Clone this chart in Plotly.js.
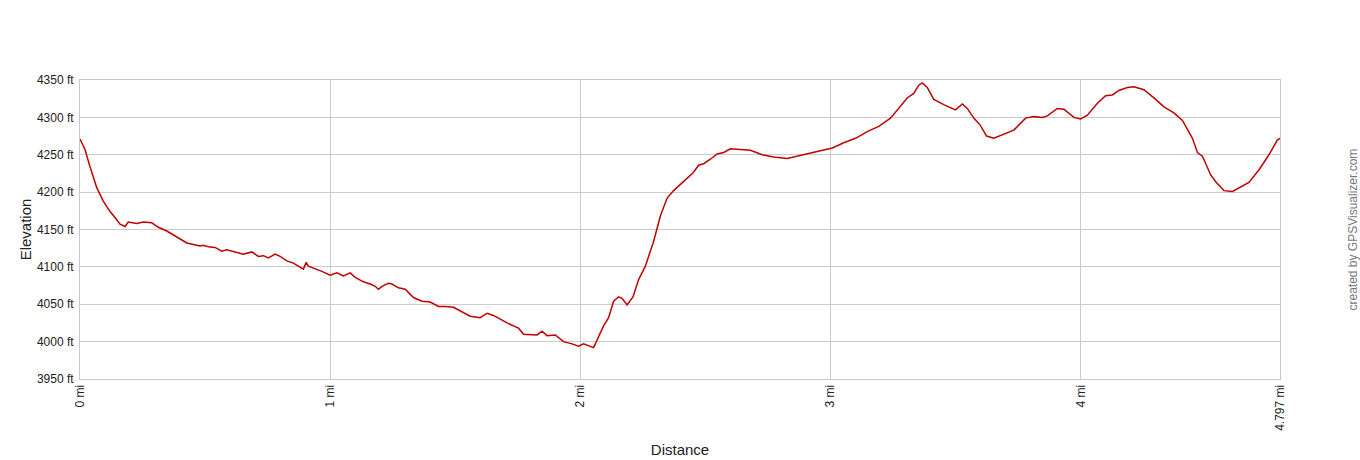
<!DOCTYPE html>
<html>
<head>
<meta charset="utf-8">
<script src="https://cdn.plot.ly/plotly-3.0.1.min.js"></script>
<style>
  html, body { margin: 0; padding: 0; background: #fff; }
  #chart { width: 1360px; height: 460px; }
</style>
</head>
<body>
<div id="chart"></div>
<script>
// distance along the track (mi)
const distMi = [
    0, 0.02, 0.04, 0.067, 0.093, 0.12, 0.14, 0.16, 0.18, 0.193, 0.227, 0.253, 0.287, 0.313,
    0.347, 0.387, 0.427, 0.453, 0.48, 0.493, 0.513, 0.54, 0.567, 0.587, 0.613, 0.653, 0.687,
    0.713, 0.733, 0.753, 0.78, 0.8, 0.827, 0.853, 0.893, 0.904, 0.913, 0.94, 0.967, 1.0,
    1.027, 1.053, 1.08, 1.1, 1.133, 1.16, 1.18, 1.193, 1.207, 1.233, 1.247, 1.273, 1.3,
    1.333, 1.367, 1.4, 1.433, 1.46, 1.493, 1.56, 1.6, 1.627, 1.653, 1.707, 1.753, 1.773,
    1.827, 1.847, 1.867, 1.9, 1.933, 1.967, 1.993, 2.013, 2.053, 2.093, 2.113, 2.133, 2.153,
    2.167, 2.187, 2.211, 2.233, 2.26, 2.293, 2.32, 2.347, 2.373, 2.4, 2.433, 2.451, 2.473,
    2.493, 2.52, 2.547, 2.573, 2.6, 2.64, 2.68, 2.727, 2.773, 2.827, 2.88, 2.947, 3.007,
    3.053, 3.1, 3.147, 3.193, 3.24, 3.267, 3.307, 3.333, 3.353, 3.367, 3.387, 3.413, 3.453,
    3.5, 3.527, 3.547, 3.573, 3.6, 3.624, 3.653, 3.693, 3.733, 3.78, 3.813, 3.847, 3.867,
    3.907, 3.933, 3.973, 4.0, 4.027, 4.067, 4.1, 4.127, 4.153, 4.187, 4.213, 4.253, 4.293,
    4.333, 4.373, 4.407, 4.447, 4.467, 4.487, 4.52, 4.54, 4.573, 4.607, 4.64, 4.673, 4.713,
    4.753, 4.787, 4.797,
];
// elevation (ft)
const elevFt = [
    4271, 4257, 4234, 4206, 4188, 4174, 4166, 4157, 4154, 4160, 4158, 4160, 4159, 4153,
    4148, 4140, 4132, 4130, 4128, 4129, 4127, 4126, 4121, 4123, 4121, 4117, 4120,
    4114, 4115, 4112, 4117, 4114, 4108, 4105, 4097, 4106, 4101, 4098, 4094, 4089,
    4092, 4088, 4092, 4086, 4080, 4077, 4074, 4070, 4074, 4078, 4077, 4072, 4070,
    4059, 4054, 4053, 4047, 4047, 4046, 4034, 4032, 4038, 4035, 4025, 4018, 4010,
    4009, 4014, 4008, 4009, 4000, 3997, 3994, 3997, 3992, 4021, 4032, 4054, 4060,
    4058, 4049, 4060, 4083, 4101, 4134, 4168, 4192, 4202, 4210, 4220, 4226, 4236,
    4238, 4244, 4251, 4253, 4258, 4257, 4256, 4250, 4247, 4245, 4249, 4255, 4259,
    4266, 4272, 4281, 4288, 4299, 4310, 4326, 4332, 4343, 4346, 4340, 4324, 4317,
    4310, 4318, 4312, 4299, 4289, 4275, 4272, 4277, 4283, 4299, 4301, 4300, 4302,
    4312, 4311, 4300, 4298, 4303, 4319, 4329, 4330, 4336, 4340, 4341, 4337, 4326,
    4314, 4306, 4296, 4272, 4253, 4248, 4223, 4214, 4202, 4201, 4207, 4213, 4230,
    4250, 4270, 4272,
];
const xTickVals = [0, 1, 2, 3, 4, 4.797];
const xTickText = ['0 mi', '1 mi', '2 mi', '3 mi', '4 mi', '4.797 mi'];
const yTickVals = [3950, 4000, 4050, 4100, 4150, 4200, 4250, 4300, 4350];
const yTickText = ['3950 ft', '4000 ft', '4050 ft', '4100 ft', '4150 ft', '4200 ft', '4250 ft', '4300 ft', '4350 ft'];

const font = 'Liberation Sans, Arial, sans-serif';

const profile = {
    x: distMi,
    y: elevFt,
    type: 'scatter',
    mode: 'lines',
    line: { color: '#c00000', width: 1.5 },
    hoverinfo: 'x+y',
};

const layout = {
    width: 1360,
    height: 460,
    showlegend: false,
    plot_bgcolor: '#ffffff',
    paper_bgcolor: '#ffffff',
    margin: { l: 80, r: 80, t: 80, b: 81, pad: 0 },
    xaxis: {
        range: [0, 4.797],
        tickvals: xTickVals,
        ticktext: xTickText,
        tickangle: -90,
        ticks: '',
        showgrid: true,
        gridcolor: '#cccccc',
        gridwidth: 1,
        zeroline: false,
        showline: true,
        linecolor: '#c8c8c8',
        linewidth: 1,
        mirror: true,
        tickfont: { family: font, size: 12, color: '#222222' },
        title: {
            text: 'Distance',
            standoff: 14,
            font: { family: font, size: 15, color: '#222222' },
        },
    },
    yaxis: {
        range: [3950, 4350],
        tickvals: yTickVals,
        ticktext: yTickText,
        ticks: '',
        ticklabelstandoff: 3,
        showgrid: true,
        gridcolor: '#cccccc',
        gridwidth: 1,
        zeroline: false,
        showline: true,
        linecolor: '#c8c8c8',
        linewidth: 1,
        mirror: true,
        tickfont: { family: font, size: 12, color: '#222222' },
        title: {
            text: 'Elevation',
            standoff: 1,
            font: { family: font, size: 15, color: '#222222' },
        },
    },
    annotations: [{
        text: 'created by GPSVisualizer.com',
        xref: 'paper',
        yref: 'paper',
        x: 1.06,
        y: 0.5,
        xanchor: 'center',
        yanchor: 'middle',
        textangle: -90,
        showarrow: false,
        font: { family: font, size: 12, color: '#777777' },
    }],
};

Plotly.newPlot('chart', [profile], layout, { displayModeBar: false, staticPlot: true });
</script>
</body>
</html>
